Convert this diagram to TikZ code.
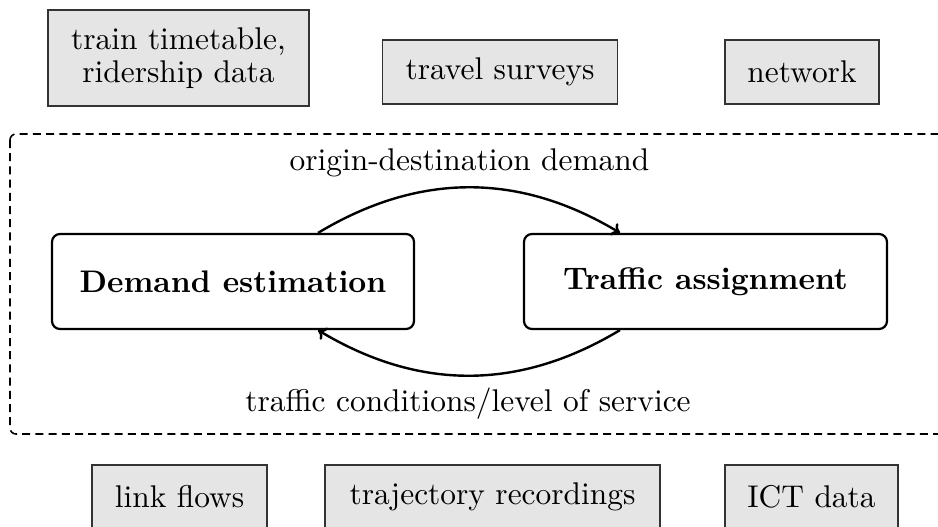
\documentclass[tikz,border=0pt]{standalone}
\usepackage{fontspec}
\setmainfont{lmroman10-regular.otf}[BoldFont=lmroman10-bold.otf]
\usetikzlibrary{arrows.meta}
\tikzset{
  databox/.style={draw=black!80, line width=0.6pt, fill=gray!20, align=center, inner sep=0pt,
    minimum height=32pt, font=\fontsize{15.7}{16.5}\selectfont},
  modelbox/.style={draw=black, line width=1.1pt, rounded corners=4pt, align=center, inner sep=0pt,
    minimum width=181pt, minimum height=47.5pt, font=\fontsize{15.6}{18}\selectfont\bfseries},
  flow/.style={line width=1.2pt, -{To[length=4pt,width=7pt]}},
  lbl/.style={anchor=base, inner sep=0pt, font=\fontsize{15.7}{18}\selectfont},
}
\begin{document}
\begin{tikzpicture}[x=0.5pt,y=-0.5pt]
\useasboundingbox (0,0) rectangle (938,526);
\clip (0,0) rectangle (938,526);
% top data sources
\node[databox, minimum width=130.5pt, minimum height=48pt] (tt) at (178.5,58) {train timetable,\\ridership data};
\node[databox, minimum width=117.5pt] (ts) at (500,72) {travel surveys};
\node[databox, minimum width=77pt] (nw) at (802,72) {network};
% dashed frame
\draw[line width=0.8pt, dash pattern=on 4pt off 2.6pt, rounded corners=3pt] (10,134) rectangle (960,434);
% models
\node[modelbox] (de) at (233,281.5) {Demand estimation};
\node[modelbox, minimum width=181.5pt] (ta) at (705.5,281.5) {Traffic assignment};
% arrows
\draw[flow] ([xshift=42.5pt]de.north) to[out=31,in=149] ([xshift=-42.75pt]ta.north);
\draw[flow] ([xshift=-42.75pt]ta.south) to[out=211,in=-31] ([xshift=42.5pt]de.south);
\node[lbl] (od) at (469.5,170) {origin-destination demand};
\node[lbl] (tc) at (468,411) {traffic conditions/level of service};
% bottom data sources
\node[databox, minimum width=87.5pt] (lf) at (179.5,497) {link flows};
\node[databox, minimum width=167.5pt] (tr) at (492.5,497) {trajectory recordings};
\node[databox, minimum width=86.5pt] (ict) at (811.5,497) {ICT data};
\end{tikzpicture}
\end{document}
